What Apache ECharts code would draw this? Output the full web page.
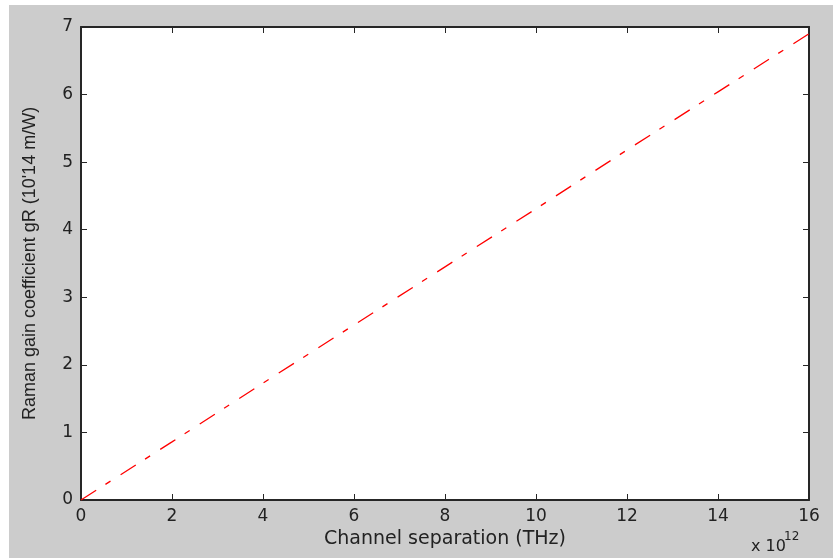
<!DOCTYPE html>
<html>
<head>
<meta charset="utf-8">
<script src="https://cdn.jsdelivr.net/npm/echarts@6/dist/echarts.min.js"></script>
<style>
html,body{margin:0;padding:0;background:#ffffff;}
#chart{position:absolute;left:9px;top:5px;width:824px;height:553px;}
</style>
</head>
<body>
<div id="chart"></div>
<script>
// Data (channel separation in Hz, Raman gain in 10^-14 m/W)
var freqHz = [0, 2e12, 4e12, 6e12, 8e12, 10e12, 12e12, 14e12, 16e12];
var gainR = [0, 0.86, 1.73, 2.59, 3.45, 4.31, 5.18, 6.04, 6.9];
var xTickLabels = ['0', '2', '4', '6', '8', '10', '12', '14', '16'];
var yTickLabels = ['0', '1', '2', '3', '4', '5', '6', '7'];
var xName = 'Channel separation (THz)';
var yName = "Raman gain coefficient gR (10'14 m/W)";
var expBase = 'x 10';
var expPower = '12';

var pts = freqHz.map(function (f, i) { return [f, gainR[i]]; });
var chart = echarts.init(document.getElementById('chart'));
var axisCol = '#262626';
var tickFont = 'DejaVu Sans';

var xBase = {
  type: 'value', min: 0, max: 16e12, interval: 2e12,
  axisLine: { show: true, onZero: false, lineStyle: { color: axisCol, width: 2 } },
  axisTick: { show: true, inside: true, length: 6, lineStyle: { color: axisCol, width: 1 } },
  splitLine: { show: false }
};
var yBase = {
  type: 'value', min: 0, max: 7, interval: 1,
  axisLine: { show: true, onZero: false, lineStyle: { color: axisCol, width: 2 } },
  axisTick: { show: true, inside: true, length: 6, lineStyle: { color: axisCol, width: 1 } },
  splitLine: { show: false }
};

chart.setOption({
  backgroundColor: '#cccccc',
  animation: false,
  grid: { left: 72, top: 22, right: 24, bottom: 58, show: true, backgroundColor: '#ffffff', borderWidth: 0 },
  xAxis: [
    Object.assign({}, xBase, {
      position: 'bottom',
      name: xName, nameLocation: 'middle', nameGap: 30,
      nameTextStyle: { fontFamily: tickFont, fontSize: 19, color: '#222' },
      axisLabel: {
        margin: 8, fontFamily: tickFont, fontSize: 17, color: '#222',
        formatter: function (v) { return xTickLabels[Math.round(v / 2e12)]; }
      }
    }),
    Object.assign({}, xBase, { position: 'top', axisLabel: { show: false } })
  ],
  yAxis: [
    Object.assign({}, yBase, {
      position: 'left',
      name: yName, nameLocation: 'middle', nameGap: 42, nameRotate: 90,
      nameTextStyle: { fontFamily: 'Liberation Sans', fontSize: 18, color: '#222' },
      axisLabel: {
        margin: 8, fontFamily: tickFont, fontSize: 17, color: '#222',
        formatter: function (v) { return yTickLabels[Math.round(v)]; }
      }
    }),
    Object.assign({}, yBase, { position: 'right', axisLabel: { show: false } })
  ],
  graphic: [
    { type: 'text', left: 742, top: 534, silent: true,
      style: { text: expBase, fontFamily: tickFont, fontSize: 16, fill: '#222' } },
    { type: 'text', left: 775, top: 526, silent: true,
      style: { text: expPower, fontFamily: tickFont, fontSize: 12, fill: '#222' } }
  ],
  series: [{
    type: 'line', xAxisIndex: 0, yAxisIndex: 0,
    data: pts, showSymbol: false, symbol: 'none',
    lineStyle: { color: '#ff0000', width: 1.3, type: [18, 11, 6, 12] }
  }]
});
</script>
</body>
</html>
